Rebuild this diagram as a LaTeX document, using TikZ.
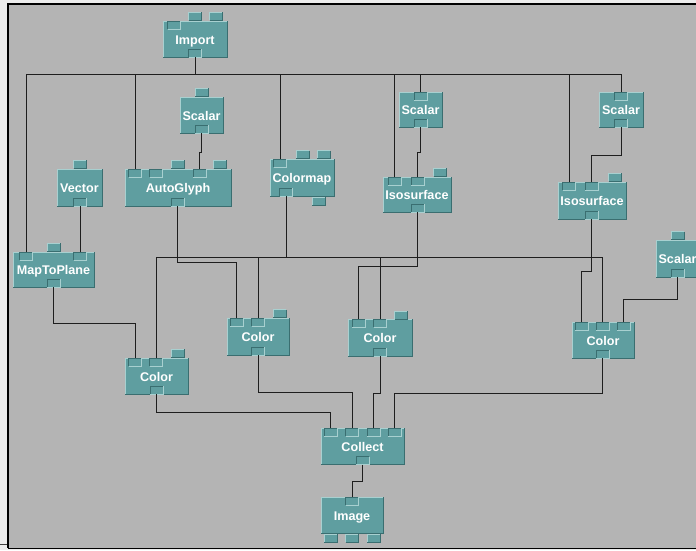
\documentclass[tikz,border=0pt]{standalone}
\usepackage{fontspec}
\setmainfont{Liberation Sans}
\definecolor{canvas}{HTML}{B4B4B4}
\definecolor{outer}{HTML}{ECECEC}
\definecolor{modfill}{HTML}{5F9EA0}
\definecolor{modlight}{HTML}{A8D0D0}
\definecolor{moddark}{HTML}{3A6E70}
\definecolor{wirec}{HTML}{1E1E1E}
\tikzset{
  wire/.style={draw=wirec, line width=1pt},
  lbl/.style={text=white, font=\bfseries\fontsize{12.6}{14}\selectfont, inner sep=0pt, text height=9pt, text depth=0pt},
  port/.style={fill=modfill, minimum width=13pt, minimum height=8pt, inner sep=0pt, outer sep=0pt},
  hi/.style={draw=modlight, line width=0.9pt},
  lo/.style={draw=moddark, line width=0.9pt},
}
\newcommand{\modbox}[6]{%
  \fill[modfill] (#2,#3) rectangle (#4,#5);
  \draw[hi] (#2,#5) -- (#2,#3) -- (#4,#3);
  \draw[lo] (#2,#5) -- (#4,#5) -- (#4,#3);
  \node[lbl] (#1) at ({(#2+#4)/2},{(#3+#5)/2+0.5}) {#6};}
% raised tab (outside the box)
\newcommand{\rport}[3]{%
  \node[port] (#1) at (#2,#3) {};
  \draw[hi] (#1.south west) -- (#1.north west) -- (#1.north east);
  \draw[lo] (#1.south west) -- (#1.south east) -- (#1.north east);}
% inset tab (inside the box)
\newcommand{\iport}[3]{%
  \node[port] (#1) at (#2,#3) {};
  \draw[lo] (#1.south west) -- (#1.north west) -- (#1.north east);
  \draw[hi] (#1.south west) -- (#1.south east) -- (#1.north east);}
\begin{document}
\begin{tikzpicture}[x=1pt,y=-1pt]
\useasboundingbox (0,0) rectangle (696,550);
\clip (0,0) rectangle (696,550);
\fill[outer] (0,0) rectangle (696,550);
\fill[canvas] (8,4) rectangle (700,548);
\draw[black, line width=2pt] (8,548) -- (8,3.8) -- (700,3.8);
\draw[black, line width=1.2pt] (8,548.6) -- (700,548.6);
\draw[black!75, line width=1pt] (0,544.5) -- (7,544.5);

% ---------- wires ----------
\coordinate (dummy) at (0,0);

% ---------- modules ----------
\modbox{import}{163}{21}{227}{57}{Import}
\modbox{scalarA}{180}{97}{223}{133}{Scalar}
\modbox{vector}{57}{169}{102}{206}{Vector}
\modbox{autoglyph}{125}{169}{231}{206}{AutoGlyph}
\modbox{colormap}{270}{159}{334}{196}{Colormap}
\modbox{maptoplane}{13}{252}{94}{287}{MapToPlane}
\modbox{colorA}{125}{358}{188}{394}{Color}
\modbox{colorB}{227}{318}{289}{355}{Color}
\modbox{colorC}{348}{319}{412}{356}{Color}
\modbox{colorD}{572}{322}{634}{358}{Color}
\modbox{scalarB}{399}{92}{442}{127}{Scalar}
\modbox{scalarC}{599}{92}{643}{127}{Scalar}
\modbox{isoA}{383}{177}{451}{212}{Isosurface}
\modbox{isoB}{558}{182}{626}{219}{Isosurface}
\modbox{scalarD}{656}{240}{699}{277}{Scalar}
\modbox{collect}{321}{428}{404}{464}{Collect}
\modbox{image}{321}{497}{383}{533}{Image}

% ---------- ports ----------
\iport{imp-i}{174}{25}  \rport{imp-r1}{195}{16} \rport{imp-r2}{216}{16} \iport{imp-o}{195}{53}
\rport{sa-r}{201.5}{92} \iport{sa-o}{201.5}{129}
\rport{vec-r}{80}{164} \iport{vec-o}{80}{202}
\iport{ag-i1}{135}{173} \iport{ag-i2}{156}{173} \iport{ag-i3}{199.5}{173}
\rport{ag-r1}{177.5}{164} \rport{ag-r2}{220}{164} \iport{ag-o}{177.5}{202}
\iport{cm-i}{280}{163} \rport{cm-r1}{302.5}{154.5} \rport{cm-r2}{323.5}{154.5}
\iport{cm-o}{286}{192} \rport{cm-o2}{318.5}{201}
\iport{mtp-i1}{26}{256} \iport{mtp-i2}{80}{256} \rport{mtp-r}{53.5}{247} \iport{mtp-o}{53.5}{283}
\iport{ca-i1}{135}{362} \iport{ca-i2}{156}{362} \rport{ca-r}{177.5}{353} \iport{ca-o}{156.5}{390}
\iport{cb-i1}{236.5}{322} \iport{cb-i2}{258}{322} \rport{cb-r}{279.5}{313.5} \iport{cb-o}{258}{351}
\iport{cc-i1}{358.5}{323} \iport{cc-i2}{380}{323} \rport{cc-r}{401}{315} \iport{cc-o}{380}{352}
\iport{cd-i1}{581.5}{326} \iport{cd-i2}{602.5}{326} \iport{cd-i3}{623.5}{326} \iport{cd-o}{602.5}{354}
\iport{sb-i}{420.5}{96} \iport{sb-o}{420.5}{123}
\iport{sc-i}{621}{96} \iport{sc-o}{621}{123}
\iport{ia-i1}{394.5}{181} \iport{ia-i2}{417.5}{181} \rport{ia-r}{440}{172} \iport{ia-o}{417.5}{208}
\iport{ib-i1}{569}{186} \iport{ib-i2}{591.5}{186} \rport{ib-r}{615}{177} \iport{ib-o}{591.5}{215}
\rport{sd-r}{677.5}{235.5} \iport{sd-o}{677.5}{273}
\iport{col-i1}{330.5}{432} \iport{col-i2}{352}{432} \iport{col-i3}{373.5}{432} \iport{col-i4}{394.5}{432}
\iport{col-o}{362.5}{460.5}
\iport{img-i}{352}{501} \rport{img-b1}{330.5}{538} \rport{img-b2}{352}{538} \rport{img-b3}{373.5}{538}

% ---------- wires ----------
\foreach \t in {mtp-i1, ag-i1, cm-i, ia-i1, sb-i, ib-i1, sc-i}
  \draw[wire] (imp-o.south) -- ++(0,17) -| (\t.north);
\draw[wire] (sa-o.south) -- ++(0,19) -| (ag-i3.north);
\draw[wire] (vec-o.south) -- (mtp-i2.north);
\draw[wire] (mtp-o.south) -- ++(0,36) -| (ca-i1.north);
\draw[wire] (ag-o.south) -- ++(0,56) -| (cb-i1.north);
\foreach \t in {ca-i2, cb-i2, cc-i2, cd-i2}
  \draw[wire] (cm-o.south) -- ++(0,61) -| (\t.north);
\draw[wire] (sb-o.south) -- ++(0,25) -| (ia-i2.north);
\draw[wire] (sc-o.south) -- ++(0,28) -| (ib-i2.north);
\draw[wire] (ia-o.south) -- ++(0,54) -| (cc-i1.north);
\draw[wire] (ib-o.south) -- ++(0,52) -| (cd-i1.north);
\draw[wire] (sd-o.south) -- ++(0,22) -| (cd-i3.north);
\draw[wire] (ca-o.south) -- ++(0,18) -| (col-i1.north);
\draw[wire] (cb-o.south) -- ++(0,37) -| (col-i2.north);
\draw[wire] (cc-o.south) -- ++(0,37) -| (col-i3.north);
\draw[wire] (cd-o.south) -- ++(0,35) -| (col-i4.north);
\draw[wire] (col-o.south) -- ++(0,17) -| (img-i.north);
\end{tikzpicture}
\end{document}
